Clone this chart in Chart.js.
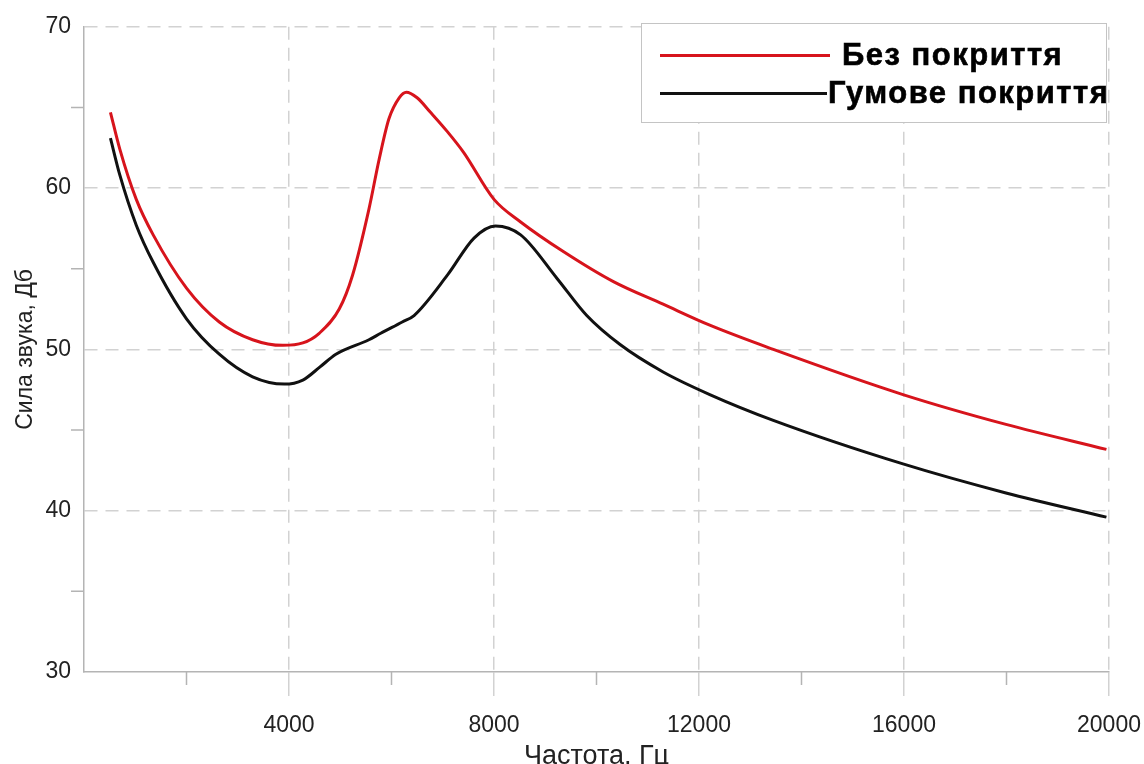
<!DOCTYPE html>
<html>
<head>
<meta charset="utf-8">
<script src="https://cdn.jsdelivr.net/npm/chart.js@4/dist/chart.umd.min.js"></script>
<style>
    html, body { margin: 0; padding: 0; background: #fff; overflow: hidden; }
    #wrap { position: relative; width: 1144px; height: 770px; }
    #legend {
        position: absolute; left: 641px; top: 23px; width: 466px; height: 100px;
        border: 1px solid #c4c4c4; background: #fff; box-sizing: border-box;
        font-family: "Liberation Sans", Arial, sans-serif; font-weight: bold; color: #000;
    }
    .item-line { position: absolute; height: 3px; }
    .item-text {
        position: absolute; font-size: 31px; line-height: 32px; white-space: nowrap;
        letter-spacing: 1.5px; -webkit-text-stroke: 0.6px #000;
    }
</style>
</head>
<body>
<div id="wrap">
    <canvas id="chart"></canvas>
    <div id="legend"></div>
</div>
<script>
// Data
const seriesNames = ["Без покриття", "Гумове покриття"];
const seriesColors = ["#d7141c", "#111111"];

const freqBare = [516, 700, 1020, 1350, 2000, 2640, 3290, 3880, 4270, 4590, 4980, 5240, 5560, 5760, 5950, 6150, 6290, 6500, 6760, 7090, 7410, 8000, 8520, 9360, 10330, 11300, 12210, 13450, 15980, 17990, 19950];
const levelBare = [64.7, 62.4, 59.3, 57.1, 53.8, 51.7, 50.6, 50.25, 50.4, 51.0, 52.5, 54.6, 58.7, 61.8, 64.3, 65.6, 65.95, 65.6, 64.7, 63.5, 62.2, 59.3, 57.9, 56.05, 54.2, 52.8, 51.5, 50.0, 47.2, 45.35, 43.8];

const freqRubber = [516, 700, 1020, 1350, 2000, 2640, 3290, 3910, 4270, 4600, 4915, 5560, 5790, 6210, 6440, 7090, 7610, 8030, 8520, 9230, 9810, 10460, 11300, 12210, 13450, 15980, 17990, 19950];
const levelRubber = [63.1, 60.8, 57.7, 55.4, 51.9, 49.7, 48.3, 47.85, 48.1, 48.9, 49.7, 50.6, 51.0, 51.7, 52.1, 54.6, 56.9, 57.65, 57.1, 54.4, 52.1, 50.3, 48.6, 47.2, 45.6, 42.9, 41.1, 39.6];

const xMajorTicks = [4000, 8000, 12000, 16000, 20000];
const xMinorTicks = [2000, 6000, 10000, 14000, 18000];
const yMinorTicks = [35, 45, 55, 65];

const gridColor = "#d2d2d2";
const axisColor = "#b4b4b4";
const fontFamily = "'Liberation Sans', Arial, sans-serif";

function toPoints(xs, ys) {
    return xs.map((x, i) => ({ x: x, y: ys[i] }));
}

// short minor tick marks outside the axes
const minorTicks = {
    id: "minorTicks",
    afterDraw(chart) {
        const ctx = chart.ctx;
        const xs = chart.scales.x;
        const ys = chart.scales.y;
        ctx.save();
        ctx.strokeStyle = axisColor;
        ctx.lineWidth = 1.5;
        ctx.beginPath();
        xMinorTicks.forEach((v) => {
            const px = xs.getPixelForValue(v);
            ctx.moveTo(px, ys.bottom);
            ctx.lineTo(px, ys.bottom + 13);
        });
        yMinorTicks.forEach((v) => {
            const py = ys.getPixelForValue(v);
            ctx.moveTo(xs.left - 13, py);
            ctx.lineTo(xs.left, py);
        });
        ctx.stroke();
        ctx.restore();
    },
};

const chart = new Chart(document.getElementById("chart"), {
    type: "line",
    data: {
        datasets: [
            {
                label: seriesNames[0],
                data: toPoints(freqBare, levelBare),
                borderColor: seriesColors[0],
                borderWidth: 3,
                pointRadius: 0,
                cubicInterpolationMode: "monotone",
            },
            {
                label: seriesNames[1],
                data: toPoints(freqRubber, levelRubber),
                borderColor: seriesColors[1],
                borderWidth: 3,
                pointRadius: 0,
                cubicInterpolationMode: "monotone",
            },
        ],
    },
    options: {
        responsive: true,
        maintainAspectRatio: false,
        animation: false,
        layout: { padding: { left: 0, right: 0, top: 24, bottom: 0 } },
        plugins: {
            legend: { display: false },
            tooltip: { enabled: false },
        },
        scales: {
            x: {
                type: "linear",
                min: 0,
                max: 20000,
                afterBuildTicks: (scale) => {
                    scale.ticks = [0].concat(xMajorTicks).map((v) => ({ value: v }));
                },
                afterFit: (scale) => {
                    scale.height = 98;
                    scale.paddingLeft = 0;
                    scale.paddingRight = 35;
                },
                ticks: {
                    padding: 16,
                    color: "#222",
                    font: { family: fontFamily, size: 23 },
                    maxRotation: 0,
                    callback: (v) => (v === 0 ? "" : String(v)),
                },
                grid: {
                    color: (c) => (c.tick && c.tick.value === 0 ? "rgba(0,0,0,0)" : gridColor),
                    lineWidth: 1.5,
                    tickLength: 24,
                    tickColor: (c) => (c.tick && c.tick.value === 0 ? "rgba(0,0,0,0)" : gridColor),
                    tickBorderDash: [],
                },
                border: { display: true, color: axisColor, width: 1.5, dash: [13, 8] },
                title: {
                    display: true,
                    text: "Частота, Гц",
                    color: "#222",
                    font: { family: fontFamily, size: 27, lineHeight: 1 },
                    padding: { top: 0, bottom: 0 },
                },
            },
            y: {
                min: 30,
                max: 70,
                ticks: {
                    stepSize: 10,
                    padding: 13,
                    color: "#222",
                    font: { family: fontFamily, size: 23 },
                },
                afterFit: (scale) => { scale.width = 84; },
                grid: {
                    color: (c) => (c.tick && c.tick.value === 30 ? "rgba(0,0,0,0)" : gridColor),
                    lineWidth: 1.5,
                    drawTicks: false,
                },
                border: { display: true, color: axisColor, width: 1.5, dash: [13, 8] },
                title: {
                    display: true,
                    text: "Сила звука, Дб",
                    color: "#222",
                    font: { family: fontFamily, size: 23, lineHeight: 1 },
                    padding: { top: 14, bottom: 0 },
                },
            },
        },
    },
    plugins: [minorTicks],
});

// Legend drawn as html from the chart datasets
const legendBox = document.getElementById("legend");
const rowTops = [31, 69];
const lineEnds = [188, 185];
const textLefts = [200, 186];
chart.data.datasets.forEach((ds, i) => {
    const line = document.createElement("div");
    line.className = "item-line";
    line.style.left = "18px";
    line.style.width = (lineEnds[i] - 18) + "px";
    line.style.top = (rowTops[i] - 1.5) + "px";
    line.style.background = ds.borderColor;
    legendBox.appendChild(line);

    const text = document.createElement("div");
    text.className = "item-text";
    text.style.left = textLefts[i] + "px";
    text.style.top = (rowTops[i] - 16) + "px";
    text.textContent = ds.label;
    legendBox.appendChild(text);
});
</script>
</body>
</html>
